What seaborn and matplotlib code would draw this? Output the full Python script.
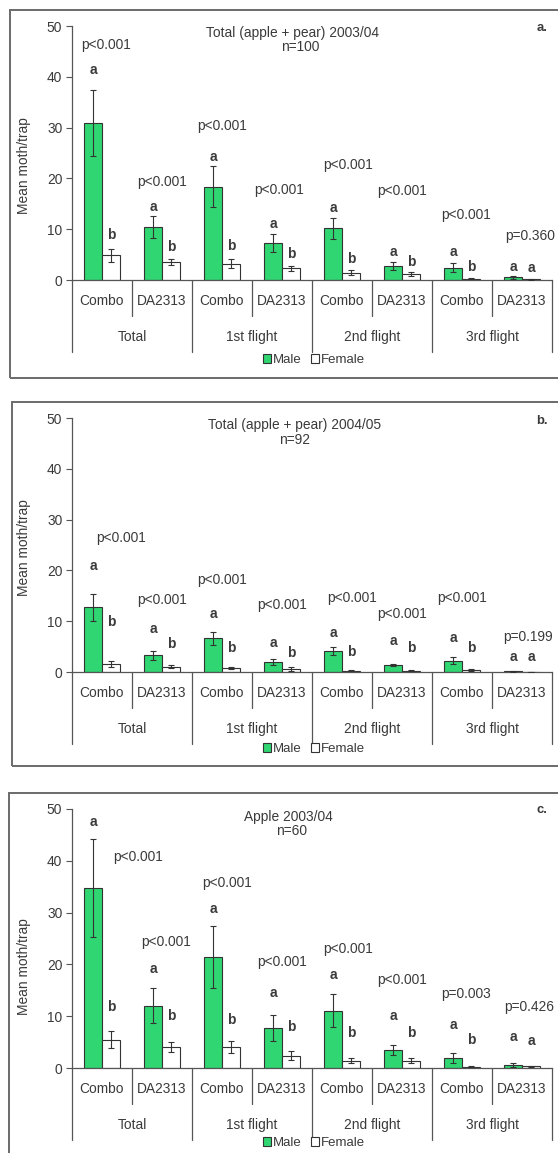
import numpy as np
import pandas as pd
import matplotlib
matplotlib.use("Agg")
import matplotlib.pyplot as plt
import seaborn as sns
from matplotlib.patches import Patch, Rectangle
from matplotlib.transforms import offset_copy

sns.set_style("white")
plt.rcParams["font.family"] = ["Liberation Sans", "DejaVu Sans"]

# ---------------- data ----------------
groups = ["Total", "1st flight", "2nd flight", "3rd flight"]
lures = ["Combo", "DA2313"]
sexes = ["Male", "Female"]

# panel a: Total (apple + pear) 2003/04, n=100
a_male = [30.9, 10.4, 18.4, 7.3, 10.2, 2.8, 2.4, 0.5]
a_male_se = [6.5, 2.2, 4.0, 1.8, 2.1, 0.8, 0.9, 0.3]
a_female = [4.9, 3.6, 3.2, 2.3, 1.4, 1.2, 0.2, 0.1]
a_female_se = [1.3, 0.6, 0.9, 0.5, 0.5, 0.4, 0.1, 0.1]
a_pvals = ["p<0.001"] * 7 + ["p=0.360"]
a_male_let = ["a"] * 8
a_female_let = ["b"] * 7 + ["a"]
a_p_y = [46.3, 19.3, 30.3, 17.7, 22.6, 17.5, 12.8, 8.7]
a_p_dx = [0.07, 0, 0, -0.05, 0.1, 0, 0.07, 0.13]
a_mlet_y = [41.3, 14.4, 24.2, 11.0, 14.1, 5.5, 5.5, 2.6]
a_flet_y = [8.9, 6.5, 6.6, 5.2, 4.1, 3.6, 2.6, 2.3]

# panel b: Total (apple + pear) 2004/05, n=92
b_male = [12.7, 3.3, 6.6, 2.0, 4.1, 1.4, 2.2, 0.1]
b_male_se = [2.7, 0.9, 1.3, 0.6, 0.8, 0.2, 0.7, 0.05]
b_female = [1.6, 1.0, 0.7, 0.5, 0.2, 0.2, 0.3, 0.05]
b_female_se = [0.6, 0.3, 0.2, 0.4, 0.1, 0.1, 0.2, 0.03]
b_pvals = ["p<0.001"] * 7 + ["p=0.199"]
b_male_let = ["a"] * 8
b_female_let = ["b"] * 7 + ["a"]
b_p_y = [26.3, 14.2, 18.2, 13.1, 14.5, 11.5, 14.5, 6.9]
b_p_dx = [0.32, 0, 0, 0, 0.17, 0, 0, 0.1]
b_mlet_y = [20.9, 8.5, 11.4, 5.8, 7.7, 6.1, 6.6, 3.0]
b_flet_y = [9.8, 5.6, 4.8, 3.7, 3.9, 4.8, 4.7, 3.0]

# panel c: Apple 2003/04, n=60
c_male = [34.7, 12.0, 21.4, 7.8, 11.1, 3.5, 1.9, 0.5]
c_male_se = [9.5, 3.4, 6.0, 2.5, 3.2, 1.0, 1.0, 0.4]
c_female = [5.5, 4.1, 4.1, 2.4, 1.4, 1.4, 0.2, 0.3]
c_female_se = [1.7, 1.0, 1.2, 0.8, 0.5, 0.5, 0.1, 0.1]
c_pvals = ["p<0.001"] * 6 + ["p=0.003", "p=0.426"]
c_male_let = ["a"] * 8
c_female_let = ["b"] * 7 + ["a"]
c_p_y = [40.7, 24.4, 35.8, 20.5, 22.9, 17.0, 14.2, 11.7]
c_p_dx = [0.6, 0.07, 0.08, 0, 0.1, 0, 0.07, 0.12]
c_mlet_y = [47.4, 19.1, 30.7, 14.4, 18.0, 10.0, 8.3, 6.0]
c_flet_y = [11.7, 10.1, 9.3, 8.0, 6.7, 6.7, 5.5, 5.2]

titles = ["Total (apple + pear) 2003/04", "Total (apple + pear) 2004/05", "Apple 2003/04"]
ns = ["n=100", "n=92", "n=60"]
panel_tags = ["a.", "b.", "c."]

# ---------------- styling / layout ----------------
W, H = 558, 1153
GREEN = "#2fd672"
TXT = "#3a3a3a"
LINE = "#555555"
FS = 9.9

fig = plt.figure(figsize=(W / 100, H / 100), dpi=100)

def fx(px):
    return px / W

def fy(py):
    return 1 - py / H

cats = [f"{g}|{l}" for g in groups for l in lures]

panels = [
    dict(male=a_male, mse=a_male_se, female=a_female, fse=a_female_se, pv=a_pvals,
         ml=a_male_let, fl=a_female_let, py=a_p_y, pdx=a_p_dx, mly=a_mlet_y, fly=a_flet_y,
         top=26, bot=280, frame=(10, 10, 378), title_y=33, n_y=47, tag_y=28, leg_y=360),
    dict(male=b_male, mse=b_male_se, female=b_female, fse=b_female_se, pv=b_pvals,
         ml=b_male_let, fl=b_female_let, py=b_p_y, pdx=b_p_dx, mly=b_mlet_y, fly=b_flet_y,
         top=418, bot=672, frame=(12, 402, 766), title_y=425, n_y=440, tag_y=421, leg_y=749),
    dict(male=c_male, mse=c_male_se, female=c_female, fse=c_female_se, pv=c_pvals,
         ml=c_male_let, fl=c_female_let, py=c_p_y, pdx=c_p_dx, mly=c_mlet_y, fly=c_flet_y,
         top=809, bot=1068, frame=(9, 793, 1170), title_y=817, n_y=831, tag_y=810, leg_y=1143),
]
ylabel_y = [0.45, 0.49, 0.39]
title_x = [292, 295, 288]
n_x = [300, 295, 292]

AX_L, AX_R = 72, 552

for i, p in enumerate(panels):
    # panel frame
    x0, y0, y1 = p["frame"]
    fig.patches.append(Rectangle((fx(x0), fy(y1)), fx(600 - x0), (y1 - y0) / H,
                                 transform=fig.transFigure, fill=False,
                                 ec="#6a6a6a", lw=1.4, zorder=0))
    ax_h = p["bot"] - p["top"]
    ax = fig.add_axes([fx(AX_L), fy(p["bot"]), (AX_R - AX_L) / W, ax_h / H])

    df = pd.DataFrame({
        "cat": cats * 2,
        "sex": ["Male"] * len(cats) + ["Female"] * len(cats),
        "val": list(p["male"]) + list(p["female"]),
    })
    sns.barplot(data=df, x="cat", y="val", hue="sex", order=cats, hue_order=sexes,
                palette={"Male": GREEN, "Female": "white"}, saturation=1,
                width=0.6, errorbar=None, edgecolor="#333333", linewidth=0.8,
                legend=False, ax=ax, zorder=2)

    # error bars + letters
    for cont, se, lets, ly in zip(ax.containers, [p["mse"], p["fse"]],
                                   [p["ml"], p["fl"]], [p["mly"], p["fly"]]):
        for bar, e, lt, yy in zip(cont, se, lets, ly):
            xc = bar.get_x() + bar.get_width() / 2
            h = bar.get_height()
            ax.errorbar(xc, h, yerr=e, fmt="none", ecolor="#333333",
                        elinewidth=0.8, capsize=2.5, capthick=0.8, zorder=3)
            ax.text(xc, yy, lt, ha="center", va="center", fontsize=FS,
                    fontweight="bold", color=TXT)

    # p-values
    for k, (pv, yy, dx) in enumerate(zip(p["pv"], p["py"], p["pdx"])):
        ax.text(k + dx, yy, pv, ha="center", va="center", fontsize=FS, color=TXT)

    ax.set_xlim(-0.5, len(cats) - 0.5)
    ax.set_ylim(0, 50)
    ax.set_yticks([0, 10, 20, 30, 40, 50])
    ax.tick_params(axis="y", direction="out", length=4, width=0.8, color=LINE,
                   labelsize=FS, labelcolor=TXT, pad=3, left=True)
    ax.tick_params(axis="x", length=0, labelbottom=False)
    ax.set_xlabel("")
    ax.set_ylabel("Mean moth/trap", fontsize=FS, color=TXT)
    ax.yaxis.set_label_coords(-0.085, ylabel_y[i])
    for s in ["top", "right"]:
        ax.spines[s].set_visible(False)
    for s in ["left", "bottom"]:
        ax.spines[s].set_color(LINE)
        ax.spines[s].set_linewidth(0.9)
    ax.set_facecolor("none")

    # category axis below
    xt = ax.get_xaxis_transform()
    short = 36 / ax_h
    long_ = 72 / ax_h
    for b in np.arange(-0.5, len(cats), 1.0):
        idx = int(b + 0.5)
        ln = long_ if idx % 2 == 0 else short
        ax.plot([b, b], [0, -ln], transform=xt, color=LINE, lw=0.9, clip_on=False)
    lab_tr = offset_copy(xt, fig=fig, y=-21, units="dots")
    grp_tr = offset_copy(xt, fig=fig, y=-57, units="dots")
    for k, c in enumerate(cats):
        ax.text(k, 0, c.split("|")[1], transform=lab_tr, ha="center", va="center",
                fontsize=FS, color=TXT)
    for g_i, g in enumerate(groups):
        ax.text(2 * g_i + 0.5, 0, g, transform=grp_tr, ha="center", va="center",
                fontsize=FS, color=TXT)

    # titles and tags
    fig.text(fx(title_x[i]), fy(p["title_y"]), titles[i], ha="center", va="center",
             fontsize=FS, color=TXT)
    fig.text(fx(n_x[i]), fy(p["n_y"]), ns[i], ha="center", va="center",
             fontsize=FS, color=TXT)
    fig.text(fx(542), fy(p["tag_y"]), panel_tags[i], ha="center", va="center",
             fontsize=FS - 0.5, fontweight="bold", color=TXT)

    # legend
    handles = [Patch(facecolor=GREEN, edgecolor="#333333", lw=0.8),
               Patch(facecolor="white", edgecolor="#333333", lw=0.8)]
    fig.legend(handles, sexes, loc="center", bbox_to_anchor=(fx(314), fy(p["leg_y"])),
               ncol=2, frameon=False, handlelength=0.6, handleheight=0.6,
               handletextpad=0.15, columnspacing=0.7, fontsize=FS - 0.4,
               labelcolor=TXT, borderpad=0, borderaxespad=0)

fig.savefig("out.png", dpi=100)
